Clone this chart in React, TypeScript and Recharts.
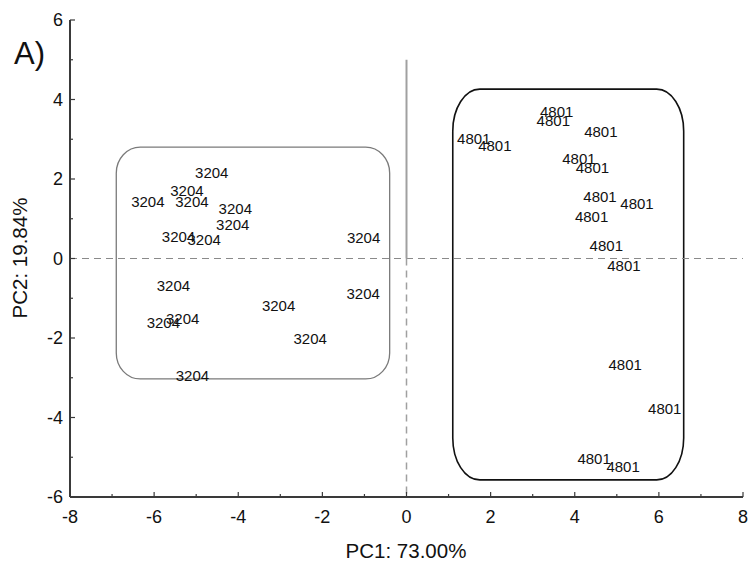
import React from 'react';
import { ScatterChart, Scatter, XAxis, YAxis, ReferenceLine, ReferenceArea } from 'recharts';

// PCA scores
const g3204PC1 = [-4.63, -5.22, -6.15, -5.10, -4.07, -4.13, -5.42, -4.81, -1.02, -5.54, -1.03, -3.04, -5.78, -5.32, -2.29, -5.09];
const g3204PC2 = [2.16, 1.71, 1.43, 1.43, 1.26, 0.84, 0.55, 0.48, 0.53, -0.68, -0.88, -1.19, -1.62, -1.52, -2.03, -2.95];
const g4801PC1 = [3.57, 3.49, 4.62, 1.60, 2.10, 4.10, 4.42, 4.60, 5.48, 4.40, 4.75, 5.17, 5.20, 6.14, 4.46, 5.15];
const g4801PC2 = [3.68, 3.47, 3.19, 3.01, 2.84, 2.50, 2.29, 1.55, 1.37, 1.04, 0.32, -0.18, -2.68, -3.79, -5.04, -5.24];

const xMajor = [-8, -6, -4, -2, 0, 2, 4, 6, 8];
const xMinor = [-7, -5, -3, -1, 1, 3, 5, 7];
const yMajor = [-6, -4, -2, 0, 2, 4, 6];
const yMinor = [-5, -3, -1, 1, 3, 5];

// grouping boxes (data units)
const box3204 = { x1: -6.9, x2: -0.4, y1: -3.03, y2: 2.8 };
const box4801 = { x1: 1.1, x2: 6.59, y1: -5.57, y2: 4.26 };

const data3204 = g3204PC1.map((x, i) => ({ x, y: g3204PC2[i], label: '3204' }));
const data4801 = g4801PC1.map((x, i) => ({ x, y: g4801PC2[i], label: '4801' }));

const xTicks = [...xMajor, ...xMinor].sort((a, b) => a - b);
const yTicks = [...yMajor, ...yMinor].sort((a, b) => a - b);

const FONT = '"Liberation Sans", Arial, sans-serif';
const AXIS = '#3a3a3a';

const LabelMark = (props: any) => (
  <text x={props.cx} y={props.cy} dy="0.35em" textAnchor="middle" fontSize={15} fontFamily={FONT} fill="#111">
    {props.payload.label}
  </text>
);

const BottomTick = ({ x, y, payload }: any) => {
  const major = xMajor.includes(payload.value);
  return (
    <g>
      <line x1={x} x2={x} y1={y} y2={y - (major ? 5 : 3)} stroke={AXIS} strokeWidth={1.2} />
      {major && (
        <text x={x} y={y + 20} dy="0.36em" textAnchor="middle" fontSize={18} fontFamily={FONT} fill="#111">{payload.value}</text>
      )}
    </g>
  );
};

const TopTick = ({ x, y, payload }: any) => {
  const major = xMajor.includes(payload.value);
  return <line x1={x} x2={x} y1={y} y2={y + (major ? 5 : 3)} stroke={AXIS} strokeWidth={1.2} />;
};

const LeftTick = ({ x, y, payload }: any) => {
  const major = yMajor.includes(payload.value);
  return (
    <g>
      <line x1={x} x2={x + (major ? 5 : 3)} y1={y} y2={y} stroke={AXIS} strokeWidth={1.2} />
      {major && (
        <text x={x - 7} y={y} dy="0.36em" textAnchor="end" fontSize={18} fontFamily={FONT} fill="#111">{payload.value}</text>
      )}
    </g>
  );
};

const RightTick = ({ x, y, payload }: any) => {
  const major = yMajor.includes(payload.value);
  return <line x1={x} x2={x - (major ? 5 : 3)} y1={y} y2={y} stroke={AXIS} strokeWidth={1.2} />;
};

const roundBox = (stroke: string, width: number, rx: number, ry: number) => (p: any) => (
  <rect x={p.x} y={p.y} width={p.width} height={p.height} rx={rx} ry={ry} fill="none" stroke={stroke} strokeWidth={width} />
);

export default function App() {
  return (
    <div style={{ position: 'absolute', left: 0, top: 0, width: 748, height: 561, background: '#fff' }}>
      <ScatterChart width={748} height={561} margin={{ top: 20, right: 5, bottom: 34, left: 0 }}>
        <XAxis type="number" dataKey="x" domain={[-8, 8]} ticks={xTicks} interval={0} height={30}
          axisLine={{ stroke: AXIS, strokeWidth: 2 }} tickLine={false} tickSize={0} tickMargin={0} tick={<BottomTick />} />
        <XAxis xAxisId="top" orientation="top" type="number" dataKey="x" domain={[-8, 8]} ticks={xTicks} interval={0} height={0}
          axisLine={{ stroke: AXIS, strokeWidth: 2 }} tickLine={false} tickSize={0} tickMargin={0} tick={<TopTick />} />
        <YAxis type="number" dataKey="y" domain={[-6, 6]} ticks={yTicks} interval={0} width={70}
          axisLine={{ stroke: AXIS, strokeWidth: 2 }} tickLine={false} tickSize={0} tickMargin={0} tick={<LeftTick />} />
        <YAxis yAxisId="right" orientation="right" type="number" dataKey="y" domain={[-6, 6]} ticks={yTicks} interval={0} width={0}
          axisLine={{ stroke: AXIS, strokeWidth: 2 }} tickLine={false} tickSize={0} tickMargin={0} tick={<RightTick />} />

        <ReferenceLine y={0} stroke="#8a8a8a" strokeWidth={1.2} strokeDasharray="7 5" />
        <ReferenceLine segment={[{ x: 0, y: 5 }, { x: 0, y: 0 }]} stroke="#a0a0a0" strokeWidth={2} />
        <ReferenceLine segment={[{ x: 0, y: 0 }, { x: 0, y: -6 }]} stroke="#a0a0a0" strokeWidth={1.5} strokeDasharray="7 5" />

        <ReferenceArea x1={box3204.x1} x2={box3204.x2} y1={box3204.y1} y2={box3204.y2} shape={roundBox('#7a7a7a', 1.3, 24, 26)} />
        <ReferenceArea x1={box4801.x1} x2={box4801.x2} y1={box4801.y1} y2={box4801.y2} shape={roundBox('#111', 1.6, 27, 42)} />

        <Scatter data={data3204} shape={LabelMark} isAnimationActive={false} />
        <Scatter data={data4801} shape={LabelMark} isAnimationActive={false} />
      </ScatterChart>
      <svg width={748} height={561} style={{ position: 'absolute', left: 0, top: 0, pointerEvents: 'none' }}>
        <text x={14} y={64} fontSize={31} fontFamily={FONT} fill="#111">A)</text>
        <text x={406} y={558} textAnchor="middle" fontSize={20.5} fontFamily={FONT} fill="#111">PC1: 73.00%</text>
        <text x={27} y={258} textAnchor="middle" fontSize={20.5} fontFamily={FONT} fill="#111" transform="rotate(-90 27 258)">PC2: 19.84%</text>
      </svg>
    </div>
  );
}
